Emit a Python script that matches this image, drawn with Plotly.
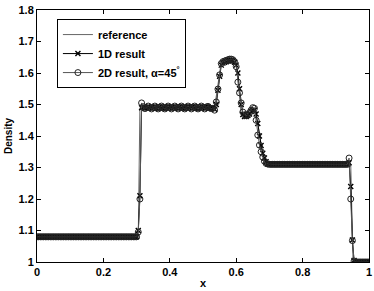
import numpy as np
import plotly.graph_objects as go

# grid (cell centres)
x_grid = np.linspace(0.0, 1.0, 201)

rho_1d = (
    [1.08] * 61
    + [1.10, 1.21, 1.49]
    + [1.492, 1.488, 1.490, 1.494, 1.490, 1.487, 1.491, 1.494, 1.489, 1.487,
       1.492, 1.494, 1.489, 1.487, 1.491, 1.494, 1.490, 1.487, 1.491, 1.494,
       1.490, 1.487, 1.492, 1.494, 1.489, 1.487, 1.491, 1.494, 1.490, 1.487,
       1.492, 1.494, 1.489, 1.487, 1.491, 1.494, 1.490, 1.487, 1.492, 1.493,
       1.489, 1.488, 1.490]
    + [1.485, 1.50, 1.545, 1.59, 1.625, 1.632, 1.634, 1.636, 1.638, 1.640,
       1.640, 1.638, 1.634, 1.625, 1.60, 1.55, 1.50, 1.468, 1.462, 1.462,
       1.465, 1.470, 1.478, 1.482, 1.482, 1.470, 1.440, 1.400, 1.370, 1.345,
       1.330, 1.318, 1.312]
    + [1.31] * 48
    + [1.315, 1.24, 1.07, 1.005]
    + [1.0] * 9
)

rho_2d = (
    [1.08] * 61
    + [1.095, 1.20, 1.505]
    + [1.493, 1.487, 1.490, 1.495, 1.490, 1.486, 1.491, 1.495, 1.489, 1.486,
       1.492, 1.495, 1.489, 1.486, 1.491, 1.495, 1.490, 1.486, 1.491, 1.495,
       1.490, 1.486, 1.492, 1.495, 1.489, 1.486, 1.491, 1.495, 1.490, 1.486,
       1.492, 1.495, 1.489, 1.486, 1.491, 1.495, 1.490, 1.486, 1.492, 1.494,
       1.489, 1.487, 1.488]
    + [1.482, 1.508, 1.549, 1.594, 1.630, 1.636, 1.638, 1.640, 1.642, 1.644,
       1.644, 1.642, 1.636, 1.620, 1.571, 1.537, 1.505, 1.476, 1.467, 1.465,
       1.468, 1.474, 1.482, 1.490, 1.488, 1.450, 1.403, 1.371, 1.350, 1.333,
       1.320, 1.313, 1.311]
    + [1.31] * 48
    + [1.330, 1.20, 1.068, 1.003]
    + [1.0] * 9
)

ref_x = [0.0, 0.305, 0.31, 0.535, 0.555, 0.60, 0.615, 0.63, 0.655, 0.665, 0.685, 0.945, 0.952, 1.0]
ref_rho = [1.08, 1.08, 1.49, 1.49, 1.635, 1.638, 1.47, 1.462, 1.48, 1.44, 1.31, 1.31, 1.0, 1.0]

x_ticks = [0, 0.2, 0.4, 0.6, 0.8, 1]
x_tick_text = ["0", "0.2", "0.4", "0.6", "0.8", "1"]
y_ticks = [1, 1.1, 1.2, 1.3, 1.4, 1.5, 1.6, 1.7, 1.8]
y_tick_text = ["1", "1.1", "1.2", "1.3", "1.4", "1.5", "1.6", "1.7", "1.8"]

FONT = "Liberation Sans, Arial, sans-serif"

fig = go.Figure()
fig.add_trace(go.Scatter(
    x=ref_x, y=ref_rho, mode="lines", name="reference",
    line=dict(color="#666666", width=1),
))
fig.add_trace(go.Scatter(
    x=x_grid, y=rho_1d, mode="lines+markers", name="1D result",
    line=dict(color="#000000", width=1),
    marker=dict(symbol="x-thin", size=5, color="#000000",
                line=dict(color="#000000", width=1.4)),
))
fig.add_trace(go.Scatter(
    x=x_grid, y=rho_2d, mode="lines+markers", name="2D result, α=45<sup>°</sup>",
    line=dict(color="#555555", width=1),
    marker=dict(symbol="circle-open", size=6, color="#222222",
                line=dict(color="#222222", width=1)),
))

axis_font = dict(family=FONT, size=11, color="black", weight="bold")

fig.update_layout(
    width=374, height=291,
    margin=dict(l=37, r=5, t=10, b=29, autoexpand=False),
    paper_bgcolor="white", plot_bgcolor="white",
    font=dict(family=FONT, size=11, color="black"),
    showlegend=True,
    legend=dict(
        x=0.06, y=0.964, xanchor="left", yanchor="top",
        bgcolor="white", bordercolor="black", borderwidth=1,
        font=dict(family=FONT, size=11, color="black", weight="bold"),
        itemwidth=30, tracegroupgap=0,
    ),
)
fig.update_xaxes(
    range=[0, 1], tickvals=x_ticks, ticktext=x_tick_text,
    showline=True, linecolor="black", linewidth=1, mirror="ticks",
    ticks="inside", ticklen=4, tickcolor="black",
    showgrid=False, zeroline=False, tickfont=axis_font, automargin=False,
    title=dict(text="x", font=dict(family=FONT, size=11, color="black", weight="bold"), standoff=2),
)
fig.update_yaxes(
    range=[1, 1.8], tickvals=y_ticks, ticktext=y_tick_text,
    showline=True, linecolor="black", linewidth=1, mirror="ticks",
    ticks="inside", ticklen=4, tickcolor="black",
    showgrid=False, zeroline=False, tickfont=axis_font, automargin=False,
    title=dict(text="Density", font=dict(family=FONT, size=10, color="black", weight="bold"), standoff=4),
)

fig.write_html(
    "out.html",
    config={"displayModeBar": False},
    post_script="document.body.style.margin='0';document.body.style.overflow='hidden';",
)
